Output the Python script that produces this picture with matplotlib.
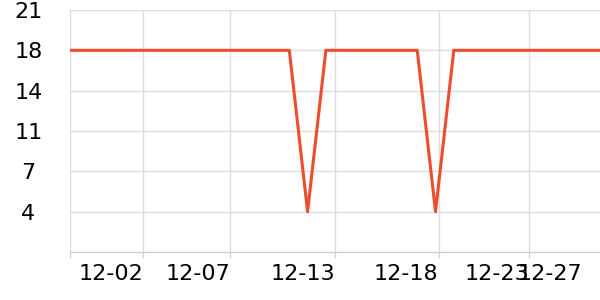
import matplotlib
matplotlib.use("Agg")
import matplotlib.pyplot as plt

# daily values, 30 days starting 12-01
days = ["12-%02d" % d for d in range(1, 31)]
values = [17.5] * 30
values[13] = 3.5
values[20] = 3.5

y_ticks = [0, 3.5, 7, 10.5, 14, 17.5, 21]
y_labels = ["", "4", "7", "11", "14", "18", "21"]

# x tick positions (day index) and labels as shown on the chart
x_ticks = [0, 4, 8.75, 14.5, 20.17, 25.1]
x_labels = ["", "12-02", "12-07", "12-13", "12-18", "12-23"]
extra_tick = [28.0]
extra_label = ["12-27"]

fig = plt.figure(figsize=(6, 3), dpi=100)
ax = fig.add_axes([70 / 600, 48 / 300, 530 / 600, 242 / 300])

x = list(range(len(values)))
ax.plot(x, values, color="#EE4D2D", lw=2.2, zorder=3)

ax.set_xlim(0, 29)
ax.set_ylim(0, 21)
ax.set_yticks(y_ticks)
ax.set_yticklabels(y_labels)
ax.set_xticks(x_ticks)
ax.set_xticklabels(x_labels, ha="right")
ax.set_xticks(extra_tick, minor=True)
ax.set_xticklabels(extra_label, minor=True, ha="right")

ax.grid(True, which="major", color="#dddddd", lw=1)
for s in ["top", "right", "left"]:
    ax.spines[s].set_visible(False)
ax.spines["bottom"].set_color("#cccccc")

ax.tick_params(axis="y", length=0, pad=30, labelsize=16)
for lbl in ax.get_yticklabels():
    lbl.set_horizontalalignment("center")
ax.tick_params(axis="x", which="major", length=4, color="#cccccc", pad=5, labelsize=16)
ax.tick_params(axis="x", which="minor", length=0, pad=9, labelsize=16)

fig.savefig("out.png")
